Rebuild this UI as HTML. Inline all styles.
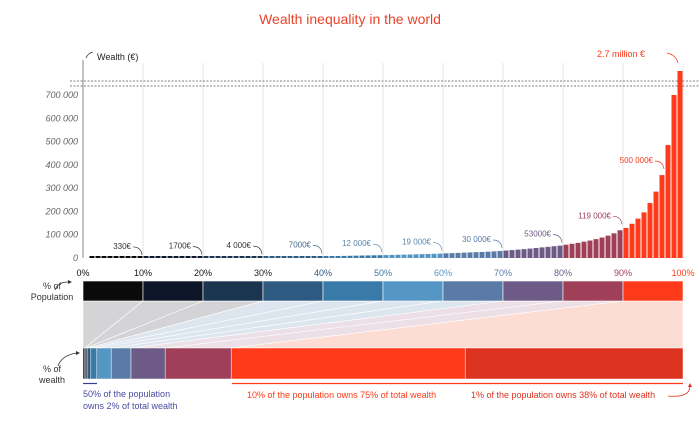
<!DOCTYPE html>
<html><head><meta charset="utf-8"><style>
body{margin:0;background:#fff;width:700px;height:422px;overflow:hidden;font-family:"Liberation Sans",sans-serif}
svg{display:block}
</style></head><body>
<svg id="c" width="700" height="422">
<text x="350" y="24" text-anchor="middle" font-size="14" fill="#e8432a">Wealth inequality in the world</text>
<g id="grid"></g>
<g id="yax"></g>
<g id="bars"></g>
<g id="ann"></g>
<g id="xax"></g>
<g id="fan"></g>
<g id="pop"></g>
<g id="wea"></g>
<g>
<text x="49" y="297" font-size="9" fill="#333" text-anchor="middle"><tspan x="52" y="289">% of</tspan><tspan x="52" y="300">Population</tspan></text>
<path d="M55,290 Q58,282 68,282" fill="none" stroke="#333" stroke-width="0.8"/>
<polygon points="68,280 72,282 68,284" fill="#333"/>
<text font-size="9" fill="#333" text-anchor="middle"><tspan x="52" y="372">% of</tspan><tspan x="52" y="383">wealth</tspan></text>
<path d="M58,366 Q62,355 77,353" fill="none" stroke="#333" stroke-width="0.8"/>
<polygon points="76,351 80,353 76,355" fill="#333"/>
<line x1="83" y1="383.5" x2="97" y2="383.5" stroke="#3a3a9a" stroke-width="1.2"/>
<line x1="232" y1="383.5" x2="683" y2="383.5" stroke="#ff3a1a" stroke-width="1.2"/>
<text font-size="9" fill="#4a4aa0"><tspan x="83" y="397">50% of the population</tspan><tspan x="83" y="409">owns 2% of total wealth</tspan></text>
<text x="247" y="398" font-size="9" fill="#ff3a1a">10% of the population owns 75% of total wealth</text>
<text x="471" y="398" font-size="9" fill="#e0321e">1% of the population owns 38% of total wealth</text>
<path d="M668,396 Q690,398 690,386" fill="none" stroke="#e0321e" stroke-width="0.8"/>
<polygon points="688,387 690,383 692,387" fill="#e0321e"/>
</g>
</svg>
<script>
const values=[-30000,0,20,50,80,120,170,220,280,330,
420,520,640,760,900,1050,1200,1380,1550,1700,
1900,2100,2300,2500,2750,3000,3250,3500,3750,4000,
4300,4600,4900,5200,5500,5800,6100,6400,6700,7000,
7500,8000,8500,9000,9500,10000,10500,11000,11500,12000,
12600,13200,13900,14500,15200,15900,16600,17300,18100,19000,
20000,21000,22000,23000,24000,25000,26000,27000,28500,30000,
32000,34000,36000,38000,40500,43000,45500,48000,50500,53000,
57000,61000,65000,70000,75000,81000,88000,96000,106000,119000,
129000,147000,169000,196000,236000,285000,356000,485000,700000,2700000];
const yTicks=[0,100000,200000,300000,400000,500000,600000,700000];
const xTicks=[0,10,20,30,40,50,60,70,80,90,100];
const decileColors=["#0a0a0a","#0d1628","#1a3550","#2c5a80","#3a7aa8","#5596c4","#5a7aa8","#6e5a86","#a04058","#ff3a1a"];
const xLabelColors=["#111","#111","#111","#222","#2c5a80","#3a7aa8","#5596c4","#5a7aa8","#6e5a86","#a04058","#ff3a1a"];
const wealthCum=[0.3,0.5,0.8,1.3,2.3,4.7,8,13.7,24.7,63.7,100];
const wealthColors=["#0a0a0a","#0d1628","#1a3550","#2c5a80","#3a7aa8","#5596c4","#5a7aa8","#6e5a86","#a04058","#ff3a1a","#dc3220"];
const annotations=[[10,"330€"],[20,"1700€"],[30,"4 000€"],[40,"7000€"],[50,"12 000€"],[60,"19 000€"],[70,"30 000€"],[80,"53000€"],[90,"119 000€"],[97,"500 000€"]];
const annColors=["#333","#333","#333","#4a6a8a","#5a86aa","#5a86aa","#5a7aa8","#6e5a86","#a04058","#ff3a1a"];

const NS="http://www.w3.org/2000/svg";
const X0=83,X1=683,Y0=258,YMAX=700000,Y700=95,BREAK=750000,TOPY=71;
const xs=p=>X0+(X1-X0)*p/100;
const ys=v=>v>BREAK?TOPY:Y0-(Y0-Y700)*v/YMAX;
function mk(tag,attrs,parent){const e=document.createElementNS(NS,tag);for(const k in attrs)e.setAttribute(k,attrs[k]);document.getElementById(parent).appendChild(e);return e;}

xTicks.forEach((t,i)=>{
 if(t>0){const g=mk('line',{x1:xs(t),x2:xs(t),y1:63,y2:Y0,stroke:'#e6e6e6','stroke-width':1},'grid');
 
 }
 const l=mk('text',{x:xs(t),y:276,'font-size':9,'text-anchor':'middle',fill:xLabelColors[i]},'xax');l.textContent=t+'%';
 
 
});
mk('line',{x1:X0,x2:X0,y1:60,y2:Y0,stroke:'#888','stroke-width':1},'yax');
mk('path',{d:'M86,58 Q88,53 93,52',fill:'none',stroke:'#333','stroke-width':0.8},'yax');
const wl=mk('text',{x:97,y:60,'font-size':9,fill:'#222'},'yax');wl.textContent='Wealth (€)';


yTicks.forEach(t=>{
 const l=mk('text',{x:78,y:ys(t)+3,'font-size':9,'font-style':'italic','text-anchor':'end',fill:'#666'},'yax');
 l.textContent=t===0?'0':(t/1000)+' 000';
 
 
});
[81,86].forEach(y=>mk('line',{x1:70,x2:700,y1:y,y2:y,stroke:'#555','stroke-width':0.8,'stroke-dasharray':'2,1.5'},'yax'));

values.forEach((v,i)=>{
 const x=xs(i)+0.5,w=5,c=decileColors[Math.floor(i/10)];
 let y,h;
 if(v<0){y=Y0;h=Y0-ys(v);}else{y=ys(v);h=Y0-y;if(h<2){y=Y0-2;h=2;}}
 const r=mk('rect',{x:x,y:y,width:w,height:h,fill:c},'bars');
 
 
});
const big=mk('text',{x:645,y:57,'font-size':9,'text-anchor':'end',fill:'#ff3a1a'},'ann');big.textContent='2.7 million €';


mk('path',{d:'M667,53 Q676,55 678,63',fill:'none',stroke:'#ff3a1a','stroke-width':0.8},'ann');

annotations.forEach((a,k)=>{
 const p=a[0],tx=xs(p)-2,ty=ys(values[p-1])-(p>=90?10:7);
 const t=mk('text',{x:tx-10,y:ty-2,'font-size':8,'text-anchor':'end',fill:annColors[k]},'ann');t.textContent=a[1];
 
 
 mk('path',{d:`M${tx-8},${ty-4} Q${tx},${ty-4} ${tx+1},${ty+4}`,fill:'none',stroke:annColors[k],'stroke-width':0.7},'ann');
});

const PT=281,PB=301,WT=348,WB=379;
for(let d=0;d<10;d++){
 const a=d===0?0:wealthCum[d-1],b=d===9?100:wealthCum[d];
 const fc=d<3?'#d4d4d6':d<7?'#dde6ee':d<9?'#ece0e6':'#fddcd3';
 const f=mk('polygon',{points:`${xs(d*10)},${PB} ${xs(d*10+10)},${PB} ${xs(b)},${WT} ${xs(a)},${WT}`,fill:fc,stroke:'#fff','stroke-width':0.6},'fan');
 
 
 const r=mk('rect',{x:xs(d*10),y:PT,width:xs(10)-X0,height:PB-PT,fill:decileColors[d],stroke:'#fff','stroke-width':0.6},'pop');
 
 
}
wealthCum.forEach((c,i)=>{
 const a=i===0?0:wealthCum[i-1];
 const r=mk('rect',{x:xs(a),y:WT,width:xs(c)-xs(a),height:WB-WT,fill:wealthColors[i],stroke:'#fff','stroke-width':0.5},'wea');
 
 
});
</script>
</body></html>
